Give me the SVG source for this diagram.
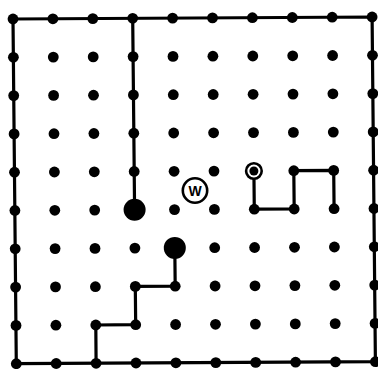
<svg xmlns="http://www.w3.org/2000/svg" width="378" height="369" viewBox="0 0 378 369">
<style>
.wall{fill:none;stroke:#000;stroke-width:3.2;stroke-linejoin:miter;stroke-linecap:square}
.dot{fill:#000}
#grid circle{r:5.4px}
.ring{fill:#fff;stroke:#000;stroke-width:2.6}
.lbl{font-family:"Liberation Sans",Arial,sans-serif;font-weight:bold;font-size:14px;fill:#000}
</style>
<rect width="378" height="369" fill="#fff"/>
<g id="connectors">
<polygon class="wall" points="13,19 372.1,17 375.4,361.7 16.3,363.7"/>
<polyline class="wall" points="132.7,18.3 134.6,209.8"/>
<polyline class="wall" points="174.8,247.9 175.2,286.2 135.3,286.4 135.7,324.7 95.8,325 96.1,363.3"/>
<polyline class="wall" points="253.9,170.9 254.3,209.2 294.2,209 293.8,170.7 333.7,170.4 334.1,208.7"/>
</g>
<g id="grid" class="dot">
<circle cx="13" cy="19" r="5.4"/><circle cx="52.9" cy="18.8" r="5.4"/><circle cx="92.8" cy="18.6" r="5.4"/><circle cx="132.7" cy="18.3" r="5.4"/><circle cx="172.6" cy="18.1" r="5.4"/><circle cx="212.5" cy="17.9" r="5.4"/><circle cx="252.4" cy="17.7" r="5.4"/><circle cx="292.3" cy="17.5" r="5.4"/><circle cx="332.2" cy="17.2" r="5.4"/><circle cx="372.1" cy="17" r="5.4"/>
<circle cx="13.4" cy="57.3" r="5.4"/><circle cx="53.3" cy="57.1" r="5.4"/><circle cx="93.2" cy="56.9" r="5.4"/><circle cx="133.1" cy="56.6" r="5.4"/><circle cx="173" cy="56.4" r="5.4"/><circle cx="212.9" cy="56.2" r="5.4"/><circle cx="252.8" cy="56" r="5.4"/><circle cx="292.7" cy="55.8" r="5.4"/><circle cx="332.6" cy="55.5" r="5.4"/><circle cx="372.5" cy="55.3" r="5.4"/>
<circle cx="13.7" cy="95.6" r="5.4"/><circle cx="53.6" cy="95.4" r="5.4"/><circle cx="93.5" cy="95.2" r="5.4"/><circle cx="133.4" cy="94.9" r="5.4"/><circle cx="173.3" cy="94.7" r="5.4"/><circle cx="213.2" cy="94.5" r="5.4"/><circle cx="253.1" cy="94.3" r="5.4"/><circle cx="293" cy="94.1" r="5.4"/><circle cx="332.9" cy="93.8" r="5.4"/><circle cx="372.8" cy="93.6" r="5.4"/>
<circle cx="14.1" cy="133.9" r="5.4"/><circle cx="54" cy="133.7" r="5.4"/><circle cx="93.9" cy="133.5" r="5.4"/><circle cx="133.8" cy="133.2" r="5.4"/><circle cx="173.7" cy="133" r="5.4"/><circle cx="213.6" cy="132.8" r="5.4"/><circle cx="253.5" cy="132.6" r="5.4"/><circle cx="293.4" cy="132.4" r="5.4"/><circle cx="333.3" cy="132.1" r="5.4"/><circle cx="373.2" cy="131.9" r="5.4"/>
<circle cx="14.5" cy="172.2" r="5.4"/><circle cx="54.4" cy="172" r="5.4"/><circle cx="94.3" cy="171.8" r="5.4"/><circle cx="134.2" cy="171.5" r="5.4"/><circle cx="174.1" cy="171.3" r="5.4"/><circle cx="214" cy="171.1" r="5.4"/><circle cx="293.8" cy="170.7" r="5.4"/><circle cx="333.7" cy="170.4" r="5.4"/><circle cx="373.6" cy="170.2" r="5.4"/>
<circle cx="14.9" cy="210.5" r="5.4"/><circle cx="54.8" cy="210.3" r="5.4"/><circle cx="94.7" cy="210.1" r="5.4"/><circle cx="174.5" cy="209.6" r="5.4"/><circle cx="214.4" cy="209.4" r="5.4"/><circle cx="254.3" cy="209.2" r="5.4"/><circle cx="294.2" cy="209" r="5.4"/><circle cx="334.1" cy="208.7" r="5.4"/><circle cx="374" cy="208.5" r="5.4"/>
<circle cx="15.2" cy="248.8" r="5.4"/><circle cx="55.1" cy="248.6" r="5.4"/><circle cx="95" cy="248.4" r="5.4"/><circle cx="134.9" cy="248.1" r="5.4"/><circle cx="214.7" cy="247.7" r="5.4"/><circle cx="254.6" cy="247.5" r="5.4"/><circle cx="294.5" cy="247.3" r="5.4"/><circle cx="334.4" cy="247" r="5.4"/><circle cx="374.3" cy="246.8" r="5.4"/>
<circle cx="15.6" cy="287.1" r="5.4"/><circle cx="55.5" cy="286.9" r="5.4"/><circle cx="95.4" cy="286.7" r="5.4"/><circle cx="135.3" cy="286.4" r="5.4"/><circle cx="175.2" cy="286.2" r="5.4"/><circle cx="215.1" cy="286" r="5.4"/><circle cx="255" cy="285.8" r="5.4"/><circle cx="294.9" cy="285.6" r="5.4"/><circle cx="334.8" cy="285.3" r="5.4"/><circle cx="374.7" cy="285.1" r="5.4"/>
<circle cx="16" cy="325.4" r="5.4"/><circle cx="55.9" cy="325.2" r="5.4"/><circle cx="95.8" cy="325" r="5.4"/><circle cx="135.7" cy="324.7" r="5.4"/><circle cx="175.6" cy="324.5" r="5.4"/><circle cx="215.5" cy="324.3" r="5.4"/><circle cx="255.4" cy="324.1" r="5.4"/><circle cx="295.3" cy="323.9" r="5.4"/><circle cx="335.2" cy="323.6" r="5.4"/><circle cx="375.1" cy="323.4" r="5.4"/>
<circle cx="16.3" cy="363.7" r="5.4"/><circle cx="56.2" cy="363.5" r="5.4"/><circle cx="96.1" cy="363.3" r="5.4"/><circle cx="136" cy="363" r="5.4"/><circle cx="175.9" cy="362.8" r="5.4"/><circle cx="215.8" cy="362.6" r="5.4"/><circle cx="255.7" cy="362.4" r="5.4"/><circle cx="295.6" cy="362.2" r="5.4"/><circle cx="335.5" cy="361.9" r="5.4"/><circle cx="375.4" cy="361.7" r="5.4"/>
</g>
<g id="bigdot1"><circle class="dot" cx="134.6" cy="209.8" r="11"/></g>
<g id="bigdot2"><circle class="dot" cx="174.8" cy="247.9" r="11"/></g>
<g id="target"><circle class="ring" cx="253.9" cy="171" r="7.8"/><circle class="dot" cx="253.9" cy="171" r="4.5"/></g>
<g id="w-node"><circle class="ring" cx="195" cy="190.5" r="12.2"/><text class="lbl" x="195" y="195.5" text-anchor="middle">W</text></g>
</svg>
